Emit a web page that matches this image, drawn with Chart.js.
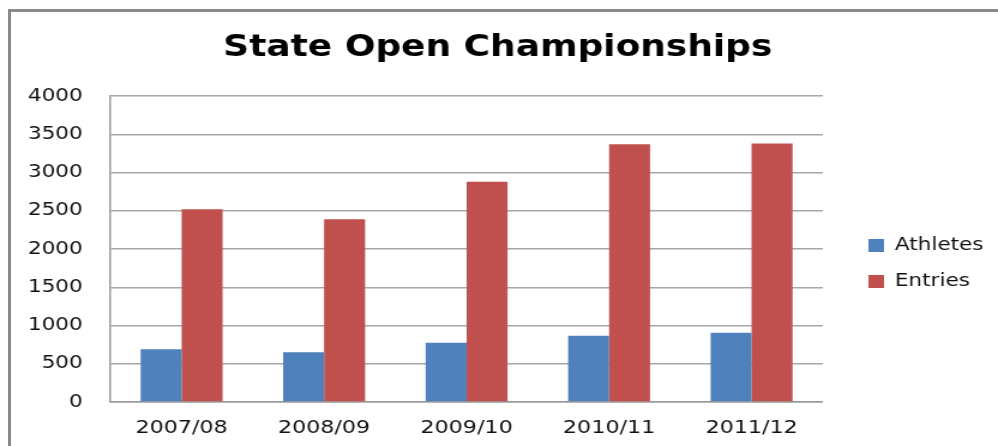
<!DOCTYPE html>
<html>
<head>
<meta charset="utf-8">
<script src="https://cdn.jsdelivr.net/npm/chart.js@4/dist/chart.umd.min.js"></script>
<style>
  html, body { margin: 0; padding: 0; background: #fff; overflow: hidden; width: 998px; height: 446px; }
  .frame {
    position: absolute; left: 8px; top: 9px; width: 987px; height: 437px;
    border-left: 3px solid #8a8a8a; border-top: 3px solid #8a8a8a;
  }
  /* the original picture is stretched sideways, so the canvas is too */
  #champChart { position: absolute; left: 0; top: 0; width: 998px !important; height: 446px !important; }
</style>
</head>
<body>
<div class="frame"></div>
<canvas id="champChart" width="832" height="446"></canvas>
<script>
const seasons = ['2007/08', '2008/09', '2009/10', '2010/11', '2011/12'];
const athletes = [690, 650, 775, 865, 905];
const entries = [2520, 2390, 2880, 3370, 3380];
const yTicks = [0, 500, 1000, 1500, 2000, 2500, 3000, 3500, 4000];

document.addEventListener('DOMContentLoaded', function () {
    const chartCanvas = document.getElementById('champChart');

    function renderChart() {
        new Chart(chartCanvas, {
            type: 'bar',
            data: {
                labels: seasons,
                datasets: [{
                    label: 'Athletes',
                    data: athletes,
                    backgroundColor: '#4f81bd',
                    borderWidth: 0
                }, {
                    label: 'Entries',
                    data: entries,
                    backgroundColor: '#c0504d',
                    borderWidth: 0
                }]
            },
            options: {
                responsive: false,
                animation: false,
                categoryPercentage: 0.575,
                barPercentage: 1,
                layout: { padding: { left: 0, right: 2, top: 0, bottom: 0 } },
                plugins: {
                    title: {
                        display: true,
                        text: 'State Open Championships',
                        color: '#000',
                        font: { family: 'DejaVu Sans', size: 30, weight: 'bold' },
                        padding: { top: 30, bottom: 30 }
                    },
                    legend: {
                        position: 'right',
                        fullSize: false,
                        title: { display: true, text: ' ', font: { size: 10 }, padding: 8.5 },
                        labels: {
                            color: '#111',
                            font: { family: 'DejaVu Sans', size: 18 },
                            boxWidth: 13,
                            boxHeight: 13,
                            padding: 18
                        }
                    },
                    tooltip: { enabled: false }
                },
                scales: {
                    x: {
                        grid: { display: false, drawTicks: false },
                        border: { display: true, color: '#9a9a9a', width: 1.5 },
                        ticks: {
                            color: '#111',
                            font: { family: 'DejaVu Sans', size: 18.5 },
                            padding: 15,
                            maxRotation: 0
                        },
                        afterFit: function (scale) { scale.height = 44; }
                    },
                    y: {
                        min: 0,
                        max: 4000,
                        afterBuildTicks: function (scale) {
                            scale.ticks = yTicks.map(v => ({ value: v }));
                        },
                        grid: { color: '#a6a6a6', lineWidth: 1.5, drawTicks: false },
                        border: { display: true, color: '#9a9a9a', width: 1.5 },
                        ticks: {
                            color: '#111',
                            font: { family: 'DejaVu Sans', size: 18 },
                            padding: 23,
                            callback: value => String(value)
                        },
                        afterFit: function (scale) { scale.width = 92; }
                    },
                    // empty axis that only keeps a gap between plot and legend
                    gap: {
                        type: 'linear',
                        position: 'right',
                        grid: { display: false },
                        border: { display: false },
                        ticks: { display: false },
                        afterFit: function (scale) { scale.width = 20; }
                    }
                }
            }
        });
    }

    renderChart();
});
</script>
</body>
</html>
